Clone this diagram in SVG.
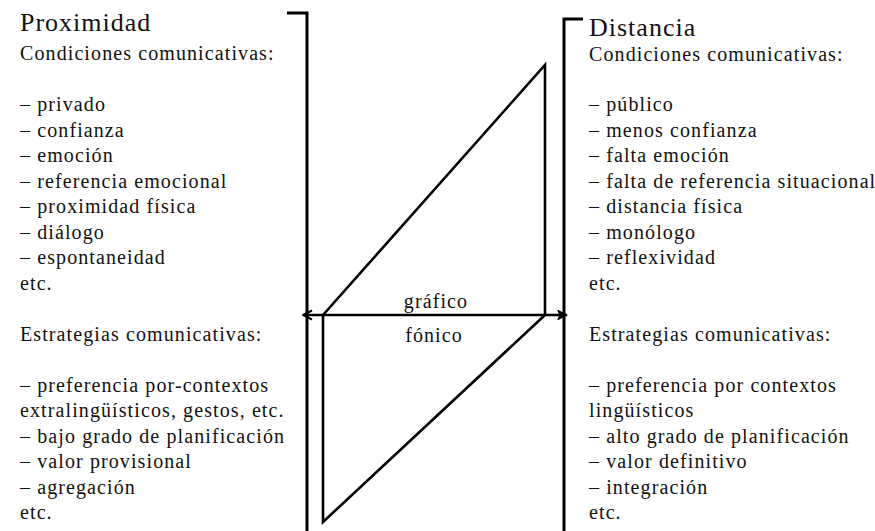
<svg xmlns="http://www.w3.org/2000/svg" width="875" height="531" viewBox="0 0 875 531">
<style>
  text { font-family: "Liberation Serif", "DejaVu Serif", serif; fill: #111; }
  .t { font-size: 20px; letter-spacing: 1.1px; }
  .h { font-size: 26px; letter-spacing: 1px; }
  .c { text-anchor: middle; }
  .br { fill: none; stroke: #000; stroke-width: 3; }
  .tri { fill: none; stroke: #000; stroke-width: 2.6; stroke-linejoin: miter; }
  .ax { fill: none; stroke: #000; stroke-width: 2.6; }
</style>
<defs>
  <marker id="ahs" viewBox="0 0 12 12" refX="11" refY="6" markerWidth="12" markerHeight="12" markerUnits="userSpaceOnUse" orient="auto-start-reverse">
    <path d="M 2 1.5 L 11 6 L 2 10.5" fill="none" stroke="#000" stroke-width="2"/>
  </marker>
  <marker id="ahe" viewBox="0 0 12 12" refX="11" refY="6" markerWidth="12" markerHeight="12" markerUnits="userSpaceOnUse" orient="auto">
    <path d="M 2 1.5 L 11 6 L 2 10.5 L 4 6 Z" fill="#000" stroke="#000" stroke-width="1.2" stroke-linejoin="round"/>
  </marker>
</defs>
<rect width="875" height="531" fill="#fff"/>

<g id="proximidad">
  <path class="br" d="M 287 13 H 307 V 531"/>
  <text class="h" x="20" y="31">Proximidad</text>
  <text class="t" x="20" y="60">Condiciones comunicativas:</text>
  <text class="t" x="20" y="111">– privado</text>
  <text class="t" x="20" y="136.5">– confianza</text>
  <text class="t" x="20" y="162">– emoción</text>
  <text class="t" x="20" y="187.5">– referencia emocional</text>
  <text class="t" x="20" y="213">– proximidad física</text>
  <text class="t" x="20" y="238.5">– diálogo</text>
  <text class="t" x="20" y="264">– espontaneidad</text>
  <text class="t" x="20" y="289.5">etc.</text>
  <text class="t" x="20" y="340.5">Estrategias comunicativas:</text>
  <text class="t" x="20" y="391.5">– preferencia por-contextos</text>
  <text class="t" x="20" y="417">extralingüísticos, gestos, etc.</text>
  <text class="t" x="20" y="442.5">– bajo grado de planificación</text>
  <text class="t" x="20" y="468">– valor provisional</text>
  <text class="t" x="20" y="493.5">– agregación</text>
  <text class="t" x="20" y="519">etc.</text>
</g>

<g id="distancia">
  <path class="br" d="M 583 19 H 564 V 531"/>
  <text class="h" x="589" y="36">Distancia</text>
  <text class="t" x="589" y="61">Condiciones comunicativas:</text>
  <text class="t" x="589" y="111">– público</text>
  <text class="t" x="589" y="136.5">– menos confianza</text>
  <text class="t" x="589" y="162">– falta emoción</text>
  <text class="t" x="589" y="187.5">– falta de referencia situacional</text>
  <text class="t" x="589" y="213">– distancia física</text>
  <text class="t" x="589" y="238.5">– monólogo</text>
  <text class="t" x="589" y="264">– reflexividad</text>
  <text class="t" x="589" y="289.5">etc.</text>
  <text class="t" x="589" y="340.5">Estrategias comunicativas:</text>
  <text class="t" x="589" y="391.5">– preferencia por contextos</text>
  <text class="t" x="589" y="417">lingüísticos</text>
  <text class="t" x="589" y="442.5">– alto grado de planificación</text>
  <text class="t" x="589" y="468">– valor definitivo</text>
  <text class="t" x="589" y="493.5">– integración</text>
  <text class="t" x="589" y="519">etc.</text>
</g>

<g id="grafico">
  <path class="tri" d="M 323 315 L 545 65 L 545 315"/>
  <text class="t c" x="436" y="308">gráfico</text>
</g>

<g id="fonico">
  <path class="tri" d="M 323 315 L 323 522 L 545 315"/>
  <text class="t c" x="434" y="342">fónico</text>
</g>

<g id="connectors">
  <line class="ax" x1="303" y1="315" x2="567" y2="315" marker-start="url(#ahs)" marker-end="url(#ahe)"/>
</g>
</svg>
